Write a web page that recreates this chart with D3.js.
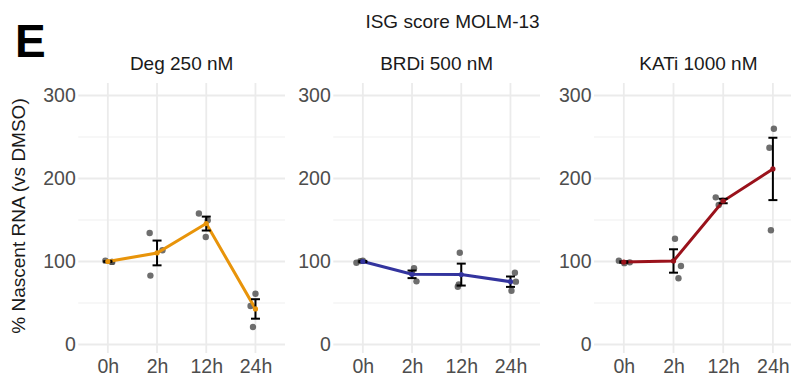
<!DOCTYPE html>
<html>
<head>
<meta charset="utf-8">
<script src="https://cdn.jsdelivr.net/npm/d3@7"></script>
<style>
  body { margin: 0; background: #fff; }
  text { font-family: "Liberation Sans", Arial, Helvetica, sans-serif; }
</style>
</head>
<body>
<div id="chart"></div>
<script>
// data
const timepoints = ["0h", "2h", "12h", "24h"];
const panels = ["Deg 250 nM", "BRDi 500 nM", "KATi 1000 nM"];
const colors = ["#E8940A", "#33349E", "#9A121B"];
const yTicks = [0, 100, 200, 300];

// replicate values per panel, per timepoint
const degValues = [[101, 99.5, 99.5], [134.4, 83, 113.5], [157.8, 149.7, 129.6], [46.3, 61.2, 21]];
const brdValues = [[98.5, 100.5, 101], [91.8, 76.1, 85.8], [110.6, 69.6, 72.5], [86.5, 75.7, 64.8]];
const katValues = [[101, 98, 99], [127.5, 94.6, 79.8], [177.3, 168, 173.3], [260, 237, 137.6]];

// horizontal jitter of each replicate (fraction of category step)
const degJitter = [[-0.05, 0.09, 0.08], [-0.15, -0.135, 0.11], [-0.15, 0.03, -0.01], [-0.1, 0, -0.05]];
const brdJitter = [[-0.13, -0.05, 0], [0.04, 0.09, 0], [-0.03, -0.07, -0.05], [0.09, 0.11, 0.02]];
const katJitter = [[-0.1, 0.01, 0.12], [0.03, 0.15, 0.1], [-0.15, -0.09, -0.01], [0.02, -0.07, -0.04]];

const allValues = [degValues, brdValues, katValues];
const allJitter = [degJitter, brdJitter, katJitter];

const width = 791, height = 379;
const panelLeft = [78.3, 333.3, 594];
const panelWidth = [206.7, 206.7, 208.7];
const plotTop = 83, plotBottom = 353;

const svg = d3.select("#chart").append("svg")
  .attr("width", width)
  .attr("height", height);

svg.append("rect").attr("width", width).attr("height", height).attr("fill", "#fff");

const y = d3.scaleLinear().domain([0, 300]).range([344.5, 95.5]);

// titles
svg.append("text")
  .attr("x", 15).attr("y", 57)
  .attr("font-size", 46).attr("font-weight", "bold")
  .text("E");

svg.append("text")
  .attr("x", 452.5).attr("y", 28)
  .attr("text-anchor", "middle")
  .attr("font-size", 19)
  .attr("fill", "#1a1a1a")
  .text("ISG score MOLM-13");

svg.append("text")
  .attr("transform", `translate(24.5, ${(plotTop + plotBottom) / 2 - 2}) rotate(-90)`)
  .attr("text-anchor", "middle")
  .attr("font-size", 19)
  .attr("fill", "#1a1a1a")
  .text("% Nascent RNA (vs DMSO)");

panels.forEach((name, p) => {
  const left = panelLeft[p], right = left + panelWidth[p];
  const x = d3.scalePoint().domain(timepoints).range([left, right]).padding(0.6);
  const g = svg.append("g");

  // grid
  const minor = [50, 150, 250];
  g.selectAll(".minor").data(minor).join("line")
    .attr("x1", left).attr("x2", right)
    .attr("y1", d => y(d)).attr("y2", d => y(d))
    .attr("stroke", "#efefef").attr("stroke-width", 1.2);
  g.selectAll(".major").data(yTicks).join("line")
    .attr("x1", left).attr("x2", right)
    .attr("y1", d => y(d)).attr("y2", d => y(d))
    .attr("stroke", "#ebebeb").attr("stroke-width", 1.8);
  g.selectAll(".vgrid").data(timepoints).join("line")
    .attr("x1", d => x(d)).attr("x2", d => x(d))
    .attr("y1", plotTop).attr("y2", plotBottom)
    .attr("stroke", "#ebebeb").attr("stroke-width", 1.8);

  // axes
  const yAxis = g.append("g")
    .attr("transform", `translate(${left}, 0)`)
    .call(d3.axisLeft(y).tickValues(yTicks).tickSize(0).tickPadding(2.5));
  yAxis.select(".domain").remove();
  yAxis.selectAll("text").attr("font-size", 19.5).attr("fill", "#4d4d4d").attr("font-family", null);

  const xAxis = g.append("g")
    .attr("transform", `translate(0, ${plotBottom})`)
    .call(d3.axisBottom(x).tickSize(0).tickPadding(6));
  xAxis.select(".domain").remove();
  xAxis.selectAll("text").attr("font-size", 19.5).attr("fill", "#4d4d4d").attr("font-family", null);

  // strip title
  g.append("text")
    .attr("x", (left + right) / 2).attr("y", 70)
    .attr("text-anchor", "middle")
    .attr("font-size", 19)
    .attr("fill", "#1a1a1a")
    .text(name);

  const values = allValues[p], jitter = allJitter[p];
  const pts = [];
  timepoints.forEach((t, i) => values[i].forEach((v, k) => pts.push({ t, v, j: jitter[i][k] })));
  const stats = timepoints.map((t, i) => {
    const m = d3.mean(values[i]);
    const se = d3.deviation(values[i]) / Math.sqrt(values[i].length);
    return { t, m, se };
  });

  // replicate points
  g.selectAll(".pt").data(pts).join("circle")
    .attr("cx", d => x(d.t) + d.j * x.step())
    .attr("cy", d => y(d.v))
    .attr("r", 3.2)
    .attr("fill", "#4a4a4a")
    .attr("fill-opacity", 0.8);

  // mean line
  g.append("path")
    .datum(stats)
    .attr("d", d3.line().x(d => x(d.t)).y(d => y(d.m)))
    .attr("fill", "none")
    .attr("stroke", colors[p])
    .attr("stroke-width", 3);

  // error bars
  const eb = g.selectAll(".eb").data(stats).join("g");
  eb.append("line")
    .attr("x1", d => x(d.t)).attr("x2", d => x(d.t))
    .attr("y1", d => y(d.m - d.se)).attr("y2", d => y(d.m + d.se))
    .attr("stroke", "#000").attr("stroke-width", 2);
  eb.append("line")
    .attr("x1", d => x(d.t) - 4.5).attr("x2", d => x(d.t) + 4.5)
    .attr("y1", d => y(d.m - d.se)).attr("y2", d => y(d.m - d.se))
    .attr("stroke", "#000").attr("stroke-width", 2);
  eb.append("line")
    .attr("x1", d => x(d.t) - 4.5).attr("x2", d => x(d.t) + 4.5)
    .attr("y1", d => y(d.m + d.se)).attr("y2", d => y(d.m + d.se))
    .attr("stroke", "#000").attr("stroke-width", 2);

  // mean points
  g.selectAll(".mean").data(stats).join("circle")
    .attr("cx", d => x(d.t)).attr("cy", d => y(d.m))
    .attr("r", 2.6)
    .attr("fill", colors[p]);
});
</script>
</body>
</html>
